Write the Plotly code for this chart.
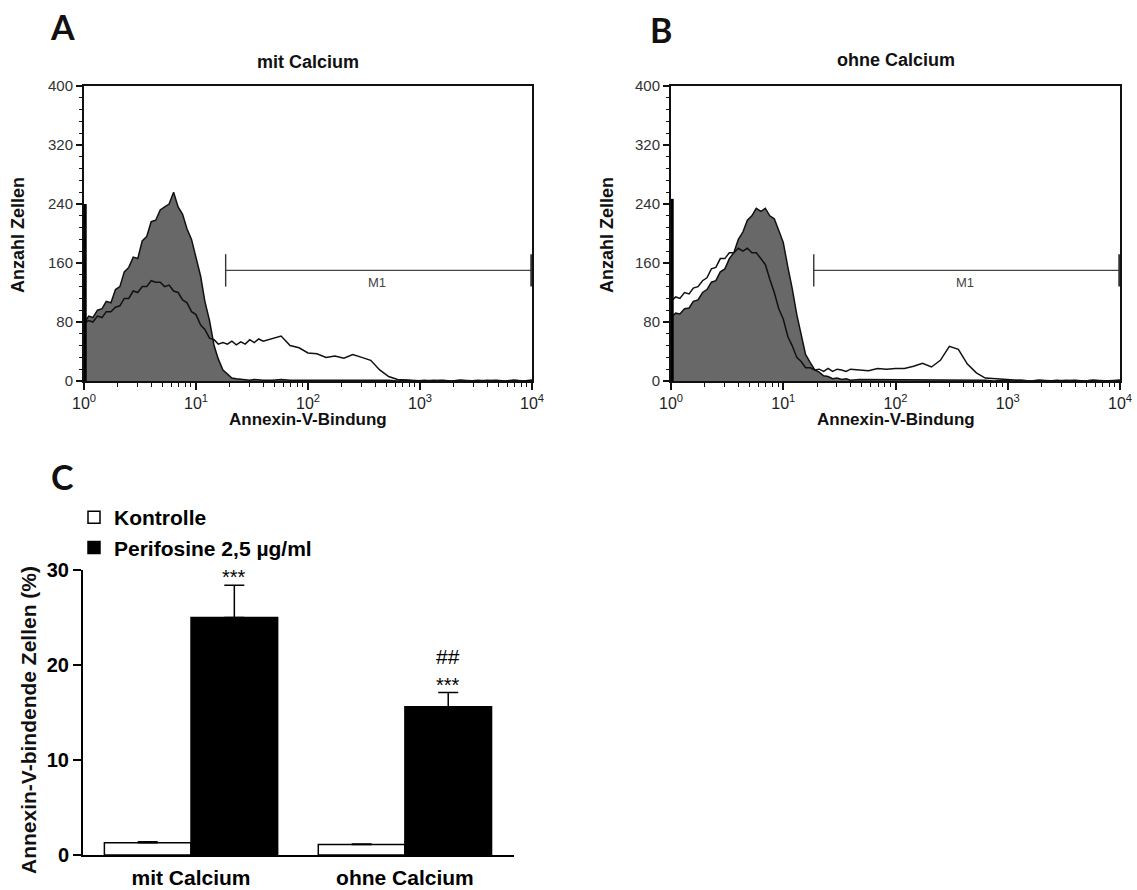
import plotly.graph_objects as go

# ---------------- data ----------------
# fluorescence channel grid (Annexin-V intensity)
channels = [1.00, 1.10, 1.20, 1.32, 1.45, 1.58, 1.74, 1.91, 2.09, 2.29,
            2.51, 2.75, 3.02, 3.31, 3.63, 3.98, 4.37, 4.79, 5.25, 5.75,
            6.31, 6.92, 7.59, 8.32, 9.12, 10.0, 11.0, 12.0, 13.2, 14.5,
            15.8, 17.4, 19.1, 20.9, 22.9, 25.1, 27.5, 30.2, 33.1, 36.3,
            39.8, 47.9, 57.5, 69.2, 83.2, 100, 120, 145, 174, 209,
            251, 302, 363, 437, 525, 631, 759, 912, 1096, 1318,
            1585, 1905, 2291, 2754, 3311, 3981, 4786, 5754, 6918, 8318, 10000]

# Panel A: mit Calcium (filled = Kontrolle, open = Perifosine)
a_kontrolle = [78, 88, 86, 96, 98, 108, 106, 124, 128, 148,
               154, 168, 166, 190, 196, 216, 218, 232, 236, 240,
               256, 236, 226, 206, 192, 166, 142, 108, 82, 48,
               30, 15, 9, 4, 3, 2, 2, 1, 2, 1,
               1, 1, 2, 1, 1, 1, 2, 1, 1, 1,
               2, 1, 1, 1, 1, 0, 1, 0, 1, 0,
               1, 0, 1, 0, 1, 0, 1, 0, 1, 0, 1]
a_perifosine = [78, 82, 80, 88, 86, 94, 94, 100, 102, 112,
                112, 122, 120, 128, 128, 136, 134, 134, 128, 130,
                122, 120, 110, 106, 94, 90, 76, 70, 58, 56,
                50, 52, 50, 54, 49, 53, 50, 56, 52, 57,
                54, 58, 61, 48, 45, 38, 37, 32, 34, 31,
                36, 32, 28, 15, 6, 2, 1, 1, 0, 1,
                0, 0, 1, 0, 0, 1, 0, 0, 1, 0, 1]
a_first_bin = 240

# Panel B: ohne Calcium
b_kontrolle = [86, 92, 91, 98, 99, 108, 110, 120, 124, 134,
               136, 148, 152, 166, 174, 192, 202, 218, 224, 234,
               230, 234, 224, 220, 204, 188, 154, 126, 90, 62,
               36, 25, 15, 12, 7, 6, 3, 4, 2, 3,
               1, 2, 2, 1, 2, 1, 1, 2, 1, 1,
               2, 1, 2, 1, 1, 1, 0, 1, 0, 1,
               0, 1, 0, 1, 0, 1, 0, 1, 0, 1, 1]
b_perifosine = [108, 114, 112, 120, 118, 126, 128, 136, 140, 152,
                154, 166, 166, 174, 174, 180, 176, 180, 174, 174,
                166, 158, 138, 120, 98, 84, 60, 48, 32, 26,
                18, 18, 15, 16, 13, 17, 13, 16, 15, 13,
                16, 15, 14, 17, 16, 17, 17, 20, 24, 19,
                28, 47, 43, 23, 11, 4, 3, 2, 1, 1,
                0, 1, 0, 0, 1, 0, 0, 1, 0, 0, 1]
b_first_bin = 247

# M1 gate
m1_a = [18.4, 9900]
m1_b = [18.7, 9900]
m1_level = 150

# Panel C: bar chart
groups = ["mit Calcium", "ohne Calcium"]
kontrolle_mean = [1.3, 1.1]
kontrolle_err = [0.1, 0.05]
perifosine_mean = [25.0, 15.6]
perifosine_err = [3.4, 1.5]
sig_stars = ["***", "***"]
sig_hash = ["", "##"]

xticks_hist = [1, 10, 100, 1000, 10000]
xticktext_hist = ["10<sup>0</sup>", "10<sup>1</sup>", "10<sup>2</sup>", "10<sup>3</sup>", "10<sup>4</sup>"]
yticks_hist = [0, 80, 160, 240, 320, 400]

FONT = "Liberation Sans, Arial, sans-serif"
LETTER_FONT = "Lato, Open Sans, sans-serif"
W, H = 1137, 890

fig = go.Figure()

def add_hist(xa, ya, kon, peri, first, m1):
    fig.add_trace(go.Scatter(x=channels, y=kon, mode="lines", fill="tozeroy",
                             fillcolor="#686868", line=dict(color="#111", width=1.5),
                             xaxis=xa, yaxis=ya, showlegend=False, hoverinfo="skip"))
    fig.add_trace(go.Scatter(x=channels, y=peri, mode="lines",
                             line=dict(color="#111", width=1.5),
                             xaxis=xa, yaxis=ya, showlegend=False, hoverinfo="skip"))
    fig.add_trace(go.Scatter(x=[1.02, 1.02], y=[0, first], mode="lines",
                             line=dict(color="#000", width=3.5),
                             xaxis=xa, yaxis=ya, showlegend=False, hoverinfo="skip"))
    # M1 gate
    fig.add_trace(go.Scatter(x=m1, y=[m1_level, m1_level], mode="lines",
                             line=dict(color="#444", width=1.4),
                             xaxis=xa, yaxis=ya, showlegend=False, hoverinfo="skip"))
    for xv, w in zip(m1, [1.4, 2.5]):
        fig.add_trace(go.Scatter(x=[xv, xv], y=[m1_level - 22, m1_level + 22], mode="lines",
                                 line=dict(color="#333", width=w),
                                 xaxis=xa, yaxis=ya, showlegend=False, hoverinfo="skip"))

add_hist("x", "y", a_kontrolle, a_perifosine, a_first_bin, m1_a)
add_hist("x2", "y2", b_kontrolle, b_perifosine, b_first_bin, m1_b)

# Panel C bars
fig.add_trace(go.Bar(x=groups, y=kontrolle_mean, name="Kontrolle",
                     marker=dict(color="white", line=dict(color="black", width=1.5)),
                     error_y=dict(type="data", array=kontrolle_err, arrayminus=[0, 0], symmetric=False,
                                  color="black", thickness=1.5, width=10),
                     xaxis="x3", yaxis="y3"))
fig.add_trace(go.Bar(x=groups, y=perifosine_mean, name="Perifosine 2,5 µg/ml",
                     marker=dict(color="black", line=dict(color="black", width=1.5)),
                     error_y=dict(type="data", array=perifosine_err, arrayminus=[0, 0], symmetric=False,
                                  color="black", thickness=1.5, width=10),
                     xaxis="x3", yaxis="y3"))

hist_x = dict(type="log", range=[0, 4], tickvals=xticks_hist, ticktext=xticktext_hist,
              ticks="outside", ticklen=7, tickwidth=1.5, tickcolor="#111",
              showline=True, linecolor="#111", linewidth=1.5, mirror=True,
              showgrid=False, zeroline=False, automargin=False,
              minor=dict(ticks="outside", ticklen=4, tickwidth=1.2, tickcolor="#111",
                         tickvals=[2, 3, 4, 5, 6, 7, 8, 9, 20, 30, 40, 50, 60, 70, 80, 90,
                                   200, 300, 400, 500, 600, 700, 800, 900,
                                   2000, 3000, 4000, 5000, 6000, 7000, 8000, 9000]),
              tickfont=dict(family=FONT, size=16, color="#222"))
hist_y = dict(range=[0, 400], tickvals=yticks_hist, ticks="outside", ticklen=6, tickwidth=1.5,
              tickcolor="#111", showline=True, linecolor="#111", linewidth=2, mirror=True,
              showgrid=False, zeroline=False, automargin=False,
              minor=dict(ticks="outside", ticklen=3, tickwidth=1.2, tickcolor="#111", dtick=16),
              tickfont=dict(family=FONT, size=15, color="#333"))

top_h, bot_h = 86, 381
fig.update_layout(
    width=W, height=H,
    margin=dict(l=0, r=0, t=0, b=0),
    paper_bgcolor="white", plot_bgcolor="white",
    barmode="group", bargap=0.19, bargroupgap=0,
    xaxis=dict(domain=[84 / W, 532 / W], anchor="y", **hist_x),
    yaxis=dict(domain=[1 - bot_h / H, 1 - top_h / H], anchor="x", **hist_y),
    xaxis2=dict(domain=[671 / W, 1120 / W], anchor="y2", **hist_x),
    yaxis2=dict(domain=[1 - bot_h / H, 1 - top_h / H], anchor="x2", **hist_y),
    xaxis3=dict(domain=[83 / W, 514 / W], anchor="y3", type="category",
                range=[-0.505, 1.51], showline=True, linecolor="black", linewidth=2,
                ticks="", showgrid=False, zeroline=False, automargin=False,
                ticklabelstandoff=3,
                tickfont=dict(family=FONT, size=21, color="black", weight="bold")),
    yaxis3=dict(domain=[1 - 855 / H, 1 - 570 / H], anchor="x3", range=[0, 30],
                tickvals=[0, 10, 20, 30], ticks="outside", ticklen=8, tickwidth=2,
                tickcolor="black", showline=True, linecolor="black", linewidth=2,
                showgrid=False, zeroline=False, automargin=False,
                tickfont=dict(family=FONT, size=20, color="black", weight="bold")),
    legend=dict(x=74 / W, y=1 - 497 / H, xanchor="left", yanchor="top",
                font=dict(family=FONT, size=21, color="black", weight="bold"),
                bgcolor="rgba(0,0,0,0)", traceorder="normal", tracegroupgap=0,
                itemwidth=30),
    showlegend=True,
)

anns = [
    dict(text="<b>A</b>", x=62, y=26, size=34, fam=LETTER_FONT, ang=0),
    dict(text="<b>B</b>", x=661, y=30, size=34, fam=LETTER_FONT, ang=0),
    dict(text="<b>C</b>", x=62, y=476, size=34, fam=LETTER_FONT, ang=0),
    dict(text="<b>mit Calcium</b>", x=308, y=62, size=18, fam=FONT, ang=0),
    dict(text="<b>ohne Calcium</b>", x=896, y=60, size=18, fam=FONT, ang=0),
    dict(text="<b>Annexin-V-Bindung</b>", x=308, y=419, size=17, fam=FONT, ang=0),
    dict(text="<b>Annexin-V-Bindung</b>", x=896, y=419, size=17, fam=FONT, ang=0),
    dict(text="<b>Anzahl Zellen</b>", x=18, y=235, size=18, fam=FONT, ang=-90),
    dict(text="<b>Anzahl Zellen</b>", x=607, y=235, size=18, fam=FONT, ang=-90),
    dict(text="<b>Annexin-V-bindende Zellen (%)</b>", x=28, y=720, size=21, fam=FONT, ang=-90),
]
for a in anns:
    fig.add_annotation(text=a["text"], x=a["x"] / W, y=1 - a["y"] / H, xref="paper", yref="paper",
                       showarrow=False, xanchor="center", yanchor="middle", textangle=a["ang"],
                       font=dict(family=a["fam"], size=a["size"], color="#111"))

# M1 labels
fig.add_annotation(x=2.62, y=133, xref="x", yref="y", text="M1", showarrow=False,
                   font=dict(family=FONT, size=13, color="#444"))
fig.add_annotation(x=2.62, y=133, xref="x2", yref="y2", text="M1", showarrow=False,
                   font=dict(family=FONT, size=13, color="#444"))

# significance marks above Perifosine bars
for i, g in enumerate(groups):
    top = perifosine_mean[i] + perifosine_err[i]
    fig.add_annotation(x=i + 0.2025, y=top, xref="x3", yref="y3", text=sig_stars[i],
                       showarrow=False, yanchor="middle", yshift=8,
                       font=dict(family=FONT, size=20, color="black"))
    if sig_hash[i]:
        fig.add_annotation(x=i + 0.2025, y=top, xref="x3", yref="y3", text=sig_hash[i],
                           showarrow=False, yanchor="middle", yshift=36,
                           font=dict(family=FONT, size=21, color="black"))

fig.write_html("out.html")
